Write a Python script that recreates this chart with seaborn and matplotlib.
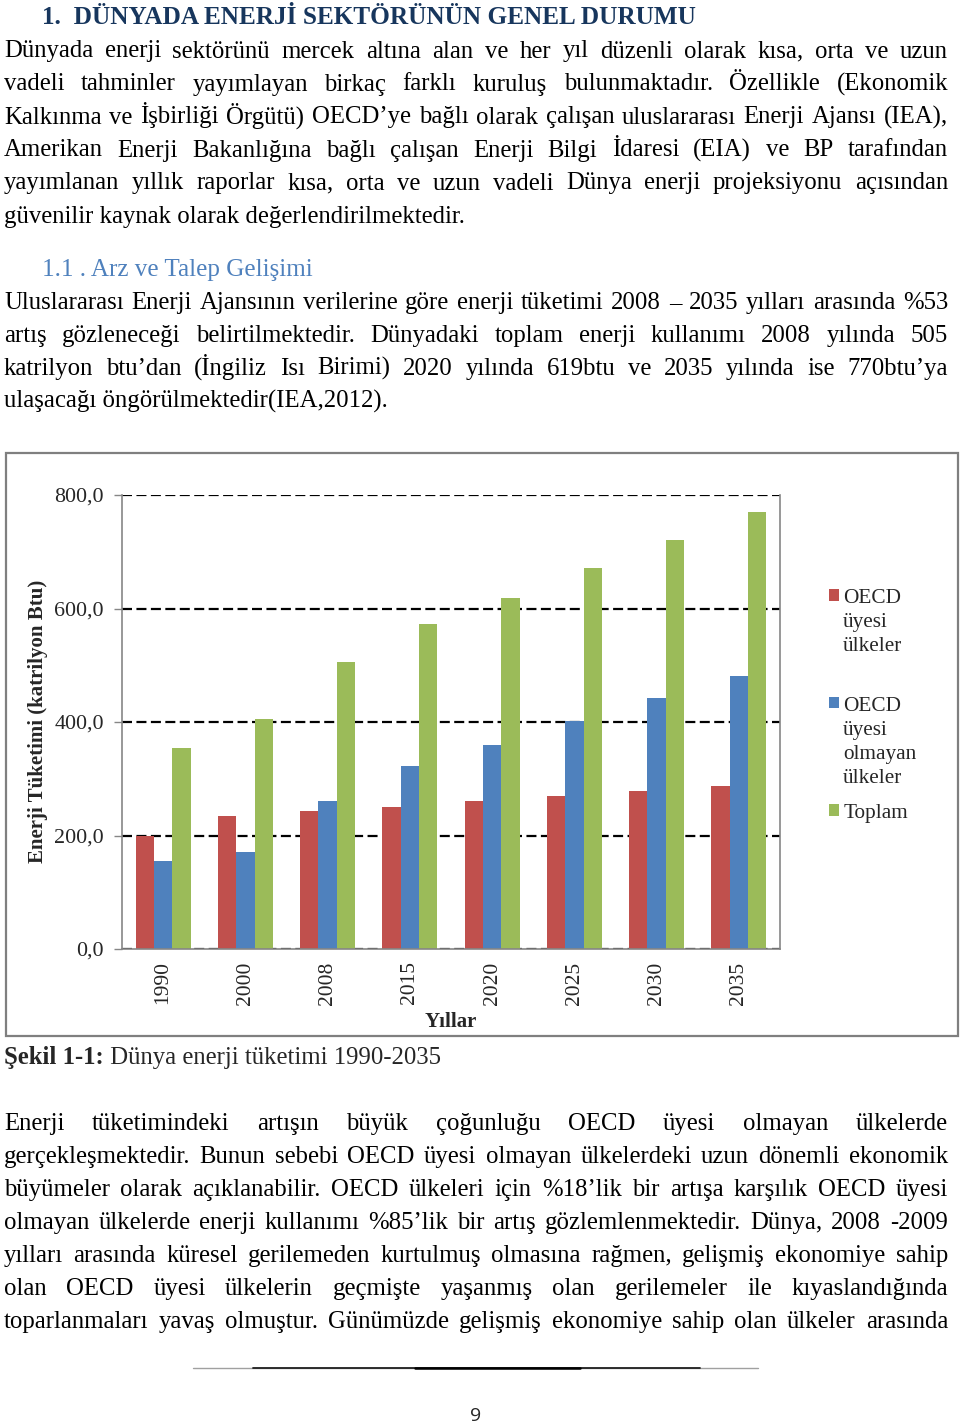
import matplotlib
matplotlib.use("Agg")
import matplotlib.pyplot as plt
import numpy as np
import pandas as pd
import seaborn as sns
from matplotlib.patches import Rectangle
from matplotlib.lines import Line2D

# ---------------- data ----------------
years = ["1990", "2000", "2008", "2015", "2020", "2025", "2030", "2035"]
oecd = [199, 234, 244, 250, 260, 270, 278, 288]
non_oecd = [155, 171, 260, 323, 359, 402, 442, 481]
total = [354, 406, 505, 573, 619, 671, 721, 770]
series_names = ["OECD\nüyesi\nülkeler\n", "OECD\nüyesi\nolmayan\nülkeler", "Toplam"]
palette = ["#C0504D", "#4F81BD", "#9BBB59"]
yticks = [0, 200, 400, 600, 800]
ytick_labels = ["0,0", "200,0", "400,0", "600,0", "800,0"]
x_label = "Yıllar"
y_label = "Enerji Tüketimi (katrilyon Btu)"

heading = "1.  DÜNYADA ENERJİ SEKTÖRÜNÜN GENEL DURUMU"
para1 = [
    "Dünyada enerji sektörünü mercek altına alan ve her yıl düzenli olarak kısa, orta ve uzun",
    "vadeli tahminler yayımlayan birkaç farklı kuruluş bulunmaktadır. Özellikle (Ekonomik",
    "Kalkınma ve İşbirliği Örgütü) OECD’ye bağlı olarak çalışan uluslararası Enerji Ajansı  (IEA),",
    "Amerikan Enerji Bakanlığına bağlı çalışan Enerji Bilgi İdaresi (EIA) ve BP tarafından",
    "yayımlanan yıllık raporlar kısa, orta ve uzun vadeli Dünya enerji projeksiyonu açısından",
    "güvenilir kaynak olarak değerlendirilmektedir.",
]
subheading = "1.1 . Arz ve Talep Gelişimi"
para2 = [
    "Uluslararası Enerji Ajansının verilerine göre enerji tüketimi 2008 – 2035 yılları arasında %53",
    "artış gözleneceği belirtilmektedir.  Dünyadaki toplam enerji kullanımı 2008 yılında 505",
    "katrilyon btu’dan (İngiliz Isı Birimi) 2020 yılında 619btu ve 2035 yılında ise 770btu’ya",
    "ulaşacağı öngörülmektedir(IEA,2012).",
]
caption_bold = "Şekil 1-1:"
caption_rest = " Dünya enerji tüketimi 1990-2035"
para3 = [
    "Enerji tüketimindeki artışın büyük çoğunluğu OECD üyesi olmayan ülkelerde",
    "gerçekleşmektedir. Bunun sebebi OECD üyesi olmayan ülkelerdeki uzun dönemli ekonomik",
    "büyümeler olarak açıklanabilir. OECD ülkeleri için %18’lik bir artışa karşılık OECD üyesi",
    "olmayan ülkelerde enerji kullanımı %85’lik bir artış gözlemlenmektedir. Dünya, 2008 -2009",
    "yılları arasında küresel gerilemeden kurtulmuş olmasına rağmen, gelişmiş ekonomiye sahip",
    "olan OECD üyesi ülkelerin geçmişte yaşanmış olan gerilemeler ile kıyaslandığında",
    "toparlanmaları yavaş olmuştur.  Günümüzde gelişmiş ekonomiye sahip olan ülkeler arasında",
]
page_number = "9"

# ---------------- setup ----------------
sns.set_theme(style="white")
plt.rcParams["font.family"] = ["Liberation Serif", "DejaVu Serif"]
W, H = 960, 1425
fig = plt.figure(figsize=(W / 100, H / 100), dpi=100)
fig.patch.set_facecolor("white")
renderer = fig.canvas.get_renderer()


def fx(x):
    return x / W


def fy(y):
    return 1 - y / H


def text_width(s, **kw):
    t = fig.text(0, 0, s, **kw)
    w = t.get_window_extent(renderer).width
    t.remove()
    return w


LM, RM = 4, 948
BODY = 17.8


def put_line(s, ybase, justify=True, x0=LM, x1=RM, **kw):
    kw.setdefault("fontsize", BODY)
    kw.setdefault("color", "black")
    if not justify:
        fig.text(fx(x0), fy(ybase), s, ha="left", va="baseline", **kw)
        return
    words = s.split()
    widths = [text_width(w, **kw) for w in words]
    gap = (x1 - x0 - sum(widths)) / (len(words) - 1)
    x = x0
    for w, wd in zip(words, widths):
        fig.text(fx(x), fy(ybase), w, ha="left", va="baseline", **kw)
        x += wd + gap


# heading
fig.text(fx(42), fy(24), heading, ha="left", va="baseline", fontsize=18.2,
         fontweight="bold", color="#17365D")
for i, line in enumerate(para1):
    put_line(line, 57.5 + 33 * i, justify=(i < len(para1) - 1))
fig.text(fx(42), fy(276), subheading, ha="left", va="baseline", fontsize=18.1,
         color="#4F81BD")
for i, line in enumerate(para2):
    put_line(line, 309 + 33 * i, justify=(i < len(para2) - 1))

# caption
fig.text(fx(4), fy(1064), caption_bold, ha="left", va="baseline", fontsize=BODY,
         fontweight="bold")
cw = text_width(caption_bold, fontsize=BODY, fontweight="bold")
fig.text(fx(4 + cw), fy(1064), caption_rest, ha="left", va="baseline", fontsize=BODY)

for i, line in enumerate(para3):
    put_line(line, 1130 + 33 * i, justify=True)

# footer line and page number
fig.add_artist(Line2D([fx(193), fx(758)], [fy(1367.5), fy(1367.5)], color="#A0A0A0", lw=1.0))
fig.add_artist(Line2D([fx(253), fx(700)], [fy(1367.5), fy(1367.5)], color="#202020", lw=1.3))
fig.add_artist(Line2D([fx(415), fx(580)], [fy(1367.5), fy(1367.5)], color="black", lw=1.8))
fig.text(fx(476), fy(1421), page_number, ha="center", va="baseline", fontsize=14,
         family=["Open Sans", "DejaVu Sans"])

# chart outer box
fig.add_artist(Rectangle((fx(6), fy(1036)), fx(958) - fx(6), fy(453) - fy(1036),
                         transform=fig.transFigure, fill=False, edgecolor="#7F7F7F", lw=1.6))

# ---------------- chart ----------------
ax = fig.add_axes([fx(122), fy(949), fx(780) - fx(122), fy(495) - fy(949)])
df = pd.DataFrame({
    "Yıl": years * 3,
    "Seri": [series_names[0]] * len(years) + [series_names[1]] * len(years) + [series_names[2]] * len(years),
    "Değer": oecd + non_oecd + total,
})
sns.barplot(data=df, x="Yıl", y="Değer", hue="Seri", hue_order=series_names,
            palette=palette, saturation=1, width=0.67, ax=ax, errorbar=None,
            linewidth=0, edgecolor="none")
ax.set_ylim(0, 800)
ax.set_xlim(-0.5, len(years) - 0.5)
ax.set_yticks(yticks)
ax.set_yticklabels(ytick_labels)
ax.tick_params(axis="y", which="major", length=6, width=1, color="#868686",
               direction="out", pad=7, labelsize=15.8, left=True)
ax.tick_params(axis="x", length=0, pad=9, labelsize=15.5, labelrotation=90)
for lab in ax.get_xticklabels():
    lab.set_va("top")
ax.yaxis.grid(True, color="black", linestyle=(0, (4.5, 2)), linewidth=1.6)
ax.xaxis.grid(False)
ax.set_axisbelow(True)
for side in ["left", "bottom", "right"]:
    ax.spines[side].set_visible(True)
    ax.spines[side].set_color("#868686")
    ax.spines[side].set_linewidth(1.2)
ax.spines["top"].set_visible(False)

ax.set_xlabel(x_label, fontsize=15, fontweight="bold")
ax.xaxis.set_label_coords(0.5, (949 - 1022) / 454)
ax.xaxis.label.set_va("center")
ax.set_ylabel(y_label, fontsize=15, fontweight="bold")
ax.yaxis.set_label_coords((38 - 122) / 658, (949 - 721) / 454)
ax.yaxis.label.set_va("center")

handles, labels = ax.get_legend_handles_labels()
leg = ax.legend(handles, labels, loc="upper left",
                bbox_to_anchor=(fx(829), fy(589)), bbox_transform=fig.transFigure,
                frameon=False, fontsize=15.3, handlelength=0.47, handleheight=0.47,
                handletextpad=0.2, borderpad=0, borderaxespad=0, labelspacing=0.78)
try:
    for col in leg._legend_handle_box.get_children():
        for row in col.get_children():
            row.align = "top"
except Exception:
    pass
for t in leg.get_texts():
    t.set_linespacing(1.36)

fig.savefig("out.png", dpi=100, facecolor="white")
